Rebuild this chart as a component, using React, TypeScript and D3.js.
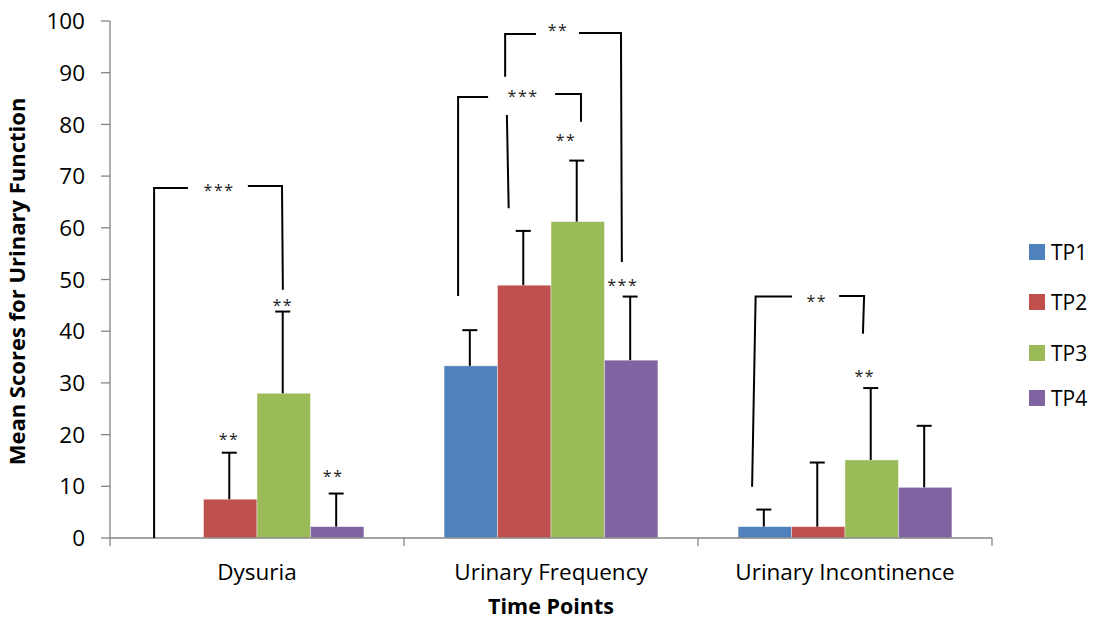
import React from "react";
import * as d3 from "d3";

const categories = ["Dysuria", "Urinary Frequency", "Urinary Incontinence"];
const seriesNames = ["TP1", "TP2", "TP3", "TP4"];
const seriesColors = ["#4F81BD", "#C0504D", "#9BBB59", "#8064A2"];
// mean values per category, in series order TP1..TP4
const dysuria = [0, 7.5, 28.0, 2.2];
const frequency = [33.3, 48.9, 61.2, 34.4];
const incontinence = [2.2, 2.2, 15.1, 9.8];
// upper error (SD) per category
const dysuriaErr = [0, 9.0, 15.8, 6.4];
const frequencyErr = [6.9, 10.5, 11.8, 12.3];
const incontinenceErr = [3.3, 12.4, 13.9, 11.9];
const yTicks = [0, 10, 20, 30, 40, 50, 60, 70, 80, 90, 100];

// significance brackets: points in (category units, value units)
const brackets: [number, number][][] = [
  [[0.150, 0], [0.150, 67.7], [0.265, 67.7]],
  [[0.469, 68.1], [0.585, 68.1], [0.588, 48.0]],
  [[1.344, 89.2], [1.344, 97.5], [1.449, 97.5]],
  [[1.350, 81.8], [1.356, 63.8]],
  [[1.595, 97.7], [1.738, 97.7], [1.741, 53.4]],
  [[1.184, 46.8], [1.184, 85.3], [1.286, 85.3]],
  [[1.514, 85.9], [1.602, 85.9], [1.602, 80.5]],
  [[2.184, 9.9], [2.196, 46.7], [2.320, 46.7]],
  [[2.480, 46.8], [2.565, 46.8], [2.561, 39.5]],
];
const starLabels: { x: number; y: number; t: string }[] = [
  { x: 0.371, y: 67.7, t: "***" },
  { x: 0.405, y: 19.6, t: "**" },
  { x: 0.588, y: 45.5, t: "**" },
  { x: 0.759, y: 12.5, t: "**" },
  { x: 1.524, y: 98.8, t: "**" },
  { x: 1.405, y: 85.9, t: "***" },
  { x: 1.551, y: 77.4, t: "**" },
  { x: 1.744, y: 49.4, t: "***" },
  { x: 2.404, y: 46.4, t: "**" },
  { x: 2.567, y: 31.9, t: "**" },
];

const W = 1094;
const H = 622;
const left = 110;
const right = 992;
const top = 21;
const bottom = 538;
const FONT = "'Open Sans', 'Liberation Sans', sans-serif";
const AXIS = "#868686";

export default function App() {
  const values = [dysuria, frequency, incontinence];
  const errs = [dysuriaErr, frequencyErr, incontinenceErr];
  const y = d3.scaleLinear().domain([0, 100]).range([bottom, top]);
  const x0 = d3.scaleBand().domain(categories).range([left, right]).paddingInner(0).paddingOuter(0);
  const bw = x0.bandwidth();
  const inner = d3.scaleBand().domain(seriesNames).range([0, bw]).paddingOuter(0.75).paddingInner(0);
  const cu = d3.scaleLinear().domain([0, 3]).range([left, right]);
  const line = d3.line<[number, number]>().x((d) => cu(d[0])).y((d) => y(d[1]));

  return (
    <svg width={W} height={H} style={{ position: "absolute", left: 0, top: 0, background: "#fff" }}>
      {/* bars */}
      {categories.map((c, ci) =>
        seriesNames.map((s, si) => {
          const v = values[ci][si];
          if (v <= 0) return null;
          return (
            <rect
              key={c + s}
              x={(x0(c) as number) + (inner(s) as number)}
              y={y(v)}
              width={inner.bandwidth()}
              height={y(0) - y(v)}
              fill={seriesColors[si]}
              stroke="#ffffff"
              strokeOpacity={0.5}
              strokeWidth={0.8}
            />
          );
        })
      )}
      {/* error bars */}
      {categories.map((c, ci) =>
        seriesNames.map((s, si) => {
          const v = values[ci][si];
          const e = errs[ci][si];
          if (e <= 0) return null;
          const cx = (x0(c) as number) + (inner(s) as number) + inner.bandwidth() / 2 - 1;
          return (
            <g key={"e" + c + s} stroke="#000" strokeWidth={2}>
              <line x1={cx} x2={cx} y1={y(v)} y2={y(v + e)} />
              <line x1={cx - 7.5} x2={cx + 7.5} y1={y(v + e)} y2={y(v + e)} />
            </g>
          );
        })
      )}
      {/* axes */}
      <g stroke={AXIS} strokeWidth={1.3}>
        <line x1={left} x2={left} y1={top} y2={bottom} />
        <line x1={left} x2={right} y1={bottom} y2={bottom} />
        {yTicks.map((t) => (
          <line key={"yt" + t} x1={left - 9} x2={left} y1={y(t)} y2={y(t)} />
        ))}
        {[0, 1, 2, 3].map((i) => (
          <line key={"xt" + i} x1={cu(i)} x2={cu(i)} y1={bottom} y2={bottom + 8} />
        ))}
      </g>
      {yTicks.map((t) => (
        <text key={"yl" + t} x={85} y={y(t)} dy="0.36em" textAnchor="end" fontFamily={FONT} fontSize={22.5} fill="#000">
          {t}
        </text>
      ))}
      {categories.map((c) => (
        <text key={"xl" + c} x={(x0(c) as number) + bw / 2} y={580} textAnchor="middle" fontFamily={FONT} fontSize={22.5} fill="#000">
          {c}
        </text>
      ))}
      <text x={551} y={614} textAnchor="middle" fontFamily={FONT} fontSize={21.5} fontWeight="bold" fill="#000">
        Time Points
      </text>
      <text
        transform={`translate(25, ${(top + bottom) / 2 + 2}) rotate(-90)`}
        textAnchor="middle"
        fontFamily={FONT}
        fontSize={22}
        fontWeight="bold"
        fill="#000"
      >
        Mean Scores for Urinary Function
      </text>
      {/* brackets */}
      {brackets.map((b, i) => (
        <path key={"b" + i} d={line(b) as string} fill="none" stroke="#000" strokeWidth={2} />
      ))}
      {starLabels.map((s, i) => (
        <text
          key={"s" + i}
          x={cu(s.x)}
          y={y(s.y) + 8.5}
          textAnchor="middle"
          fontFamily={FONT}
          fontSize={16}
          letterSpacing={1.5}
          fill="#222"
        >
          {s.t}
        </text>
      ))}
      {/* legend */}
      {seriesNames.map((s, i) => {
        const ly = [252, 302, 353, 398][i];
        return (
          <g key={"lg" + s}>
            <rect x={1029} y={ly - 8} width={16} height={16} fill={seriesColors[i]} />
            <text x={1051} y={ly} dy="0.36em" fontFamily={FONT} fontSize={21} fill="#000">
              {s}
            </text>
          </g>
        );
      })}
    </svg>
  );
}
